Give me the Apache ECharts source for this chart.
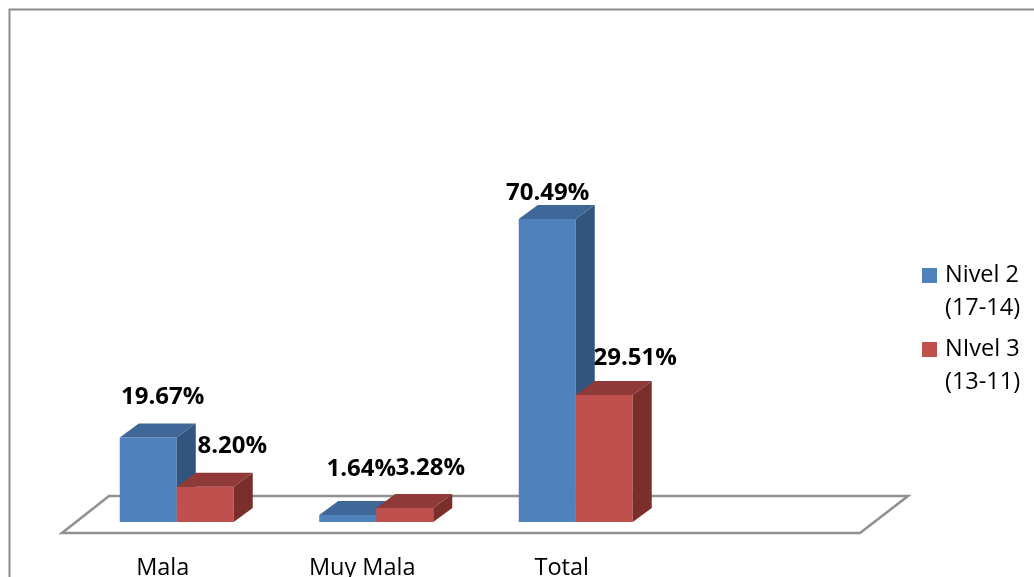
<!DOCTYPE html>
<html><head><meta charset="utf-8">
<style>html,body{margin:0;padding:0;background:#fff}#c{width:1034px;height:577px}</style>
<script src="https://cdn.jsdelivr.net/npm/echarts@6/dist/echarts.min.js"></script>
</head><body><div id="c"></div>
<script>
const categories = ['Mala', 'Muy Mala', 'Total', ''];
const nivel2 = [19.67, 1.64, 70.49, null];
const nivel3 = [8.20, 3.28, 29.51, null];
const seriesNames = ['Nivel 2\n(17-14)', 'NIvel 3\n(13-11)'];

const FONT = '"Open Sans", sans-serif';
const DEPTH = [19, -14];
const BAR_FRAC = 2 / 7;
const blue = {front: '#4F81BD', top: '#3F6797', side: '#32557F'};
const red = {front: '#C0504D', top: '#8F3A38', side: '#7A2F2D'};
const labelShift2 = [[14.5, -40.5], [13.5, -45.5], [0.5, -25.5]];
const labelShift3 = [[27, -40.5], [25.5, -39.5], [31, -36.5]];

function barItem(seriesIdx, colors, shifts) {
  return function (params, api) {
    const i = api.value(0), v = api.value(1);
    const band = api.size([1, 0])[0];
    const w = band * BAR_FRAC;
    const base = api.coord([i, 0]);
    const topPt = api.coord([i, v]);
    const x0 = base[0] + (seriesIdx - 1) * w, x1 = x0 + w;
    const yb = base[1], yt = topPt[1];
    const dx = DEPTH[0], dy = DEPTH[1];
    const s = shifts[i];
    return {type: 'group', children: [
      {type: 'polygon', shape: {points: [[x0, yb], [x1, yb], [x1, yt], [x0, yt]]}, style: {fill: colors.front}},
      {type: 'polygon', shape: {points: [[x0, yt], [x1, yt], [x1 + dx, yt + dy], [x0 + dx, yt + dy]]}, style: {fill: colors.top}},
      {type: 'polygon', shape: {points: [[x1, yb], [x1 + dx, yb + dy], [x1 + dx, yt + dy], [x1, yt]]}, style: {fill: colors.side}},
      {type: 'text', z2: 100, style: {text: v.toFixed(2) + '%', x: (x0 + x1) / 2 + s[0], y: yt + s[1],
        align: 'center', verticalAlign: 'middle', fill: '#000', font: 'bold 24px ' + FONT}}
    ]};
  };
}
function floorItem(params) {
  const c = params.coordSys, by = c.y + c.height;
  const l = c.x - 15, r = c.x + c.width - 15;
  return {type: 'polygon', shape: {points: [[l, by + 11], [r, by + 11], [r + 48, by - 26], [l + 47, by - 26]]},
    style: {fill: 'none', stroke: '#919191', lineWidth: 2.6}};
}
const pairs = a => a.map((v, i) => [i, v]).filter(p => p[1] !== null);
const icon = 'path://M0 0H15V15H0Z M0 48L0 48';

const chart = echarts.init(document.getElementById('c'), null, {renderer: 'canvas'});
chart.setOption({
  animation: false,
  backgroundColor: '#fff',
  graphic: [{type: 'rect', shape: {x: 9.5, y: 9.5, width: 1200, height: 700}, silent: true, z: -1,
    style: {fill: 'none', stroke: '#8C8C8C', lineWidth: 2}}],
  grid: {left: 77, top: 178, width: 798, height: 344, outerBoundsMode: 'none'},
  xAxis: {type: 'category', data: categories, axisLine: {show: false}, axisTick: {show: false}, splitLine: {show: false},
    axisLabel: {interval: 0, margin: 34, padding: [0, 28, 0, 0], color: '#000', fontFamily: FONT, fontSize: 23.5, verticalAlign: 'top'}},
  yAxis: {type: 'value', min: 0, max: 80, interval: 20, show: false},
  legend: {orient: 'vertical', left: 922, top: 259, padding: 0, itemGap: 8, itemWidth: 15, itemHeight: 48, symbolKeepAspect: false,
    data: seriesNames.map(n => ({name: n, icon: icon})),
    selectedMode: false,
    textStyle: {color: '#000', fontFamily: FONT, fontSize: 23.5, lineHeight: 33, padding: [0, 0, 0, 3]}},
  series: [
    {type: 'custom', name: 'floor', silent: true, z: 1, data: [[0, 0]], encode: {x: 0, y: 1}, renderItem: floorItem},
    {type: 'custom', name: seriesNames[0], z: 2, itemStyle: {color: blue.front}, data: pairs(nivel2), encode: {x: 0, y: 1}, renderItem: barItem(0, blue, labelShift2)},
    {type: 'custom', name: seriesNames[1], z: 3, itemStyle: {color: red.front}, data: pairs(nivel3), encode: {x: 0, y: 1}, renderItem: barItem(1, red, labelShift3)}
  ]
});
</script></body></html>
